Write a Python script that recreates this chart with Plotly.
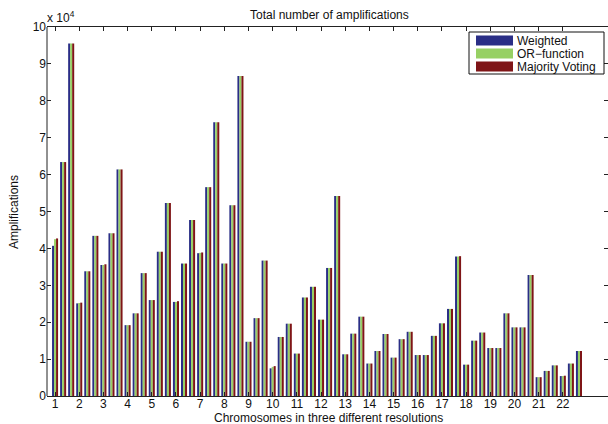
import plotly.graph_objects as go

# Amplification counts (in units of 10^4) for 22 chromosomes, each at three resolutions
chromosomes = [str(c) for c in range(1, 23)]
resolutions_per_chrom = 3

weighted = [
    4.07, 6.34, 9.55,  2.51, 3.38, 4.34,  3.55, 4.41, 6.14,  1.92, 2.24, 3.33,
    2.60, 3.91, 5.23,  2.55, 3.59, 4.77,  3.87, 5.66, 7.42,  3.59, 5.17, 8.67,
    1.47, 2.11, 3.67,  0.75, 1.60, 1.96,  1.15, 2.67, 2.96,  2.07, 3.47, 5.42,
    1.13, 1.69, 2.15,  0.88, 1.22, 1.68,  1.04, 1.54, 1.74,  1.11, 1.11, 1.63,
    1.97, 2.36, 3.78,  0.85, 1.50, 1.72,  1.30, 1.30, 2.24,  1.86, 1.86, 3.28,
    0.51, 0.68, 0.83,  0.54, 0.88, 1.22,
]
or_function = [
    4.25, 6.34, 9.55,  2.52, 3.38, 4.34,  3.55, 4.41, 6.14,  1.92, 2.24, 3.33,
    2.60, 3.91, 5.23,  2.55, 3.59, 4.77,  3.88, 5.66, 7.42,  3.59, 5.17, 8.67,
    1.47, 2.11, 3.67,  0.79, 1.60, 1.96,  1.15, 2.67, 2.96,  2.07, 3.47, 5.42,
    1.13, 1.69, 2.15,  0.88, 1.22, 1.68,  1.04, 1.54, 1.74,  1.11, 1.11, 1.63,
    1.97, 2.36, 3.78,  0.85, 1.50, 1.72,  1.30, 1.30, 2.24,  1.86, 1.86, 3.28,
    0.51, 0.68, 0.83,  0.54, 0.88, 1.22,
]
majority_voting = [
    4.27, 6.34, 9.55,  2.53, 3.38, 4.34,  3.57, 4.41, 6.14,  1.92, 2.24, 3.33,
    2.60, 3.91, 5.23,  2.57, 3.59, 4.77,  3.89, 5.66, 7.42,  3.59, 5.17, 8.67,
    1.47, 2.11, 3.67,  0.81, 1.60, 1.96,  1.15, 2.67, 2.96,  2.07, 3.47, 5.42,
    1.13, 1.69, 2.15,  0.88, 1.22, 1.68,  1.04, 1.54, 1.74,  1.11, 1.11, 1.63,
    1.97, 2.36, 3.79,  0.85, 1.50, 1.72,  1.30, 1.30, 2.24,  1.86, 1.86, 3.28,
    0.51, 0.68, 0.83,  0.55, 0.88, 1.22,
]

series_names = ["Weighted", "OR\u2212function", "Majority Voting"]
series_colors = ["#2a2e86", "#97d064", "#7f1517"]
y_ticks = list(range(0, 11))

FONT = "Liberation Sans, Arial, Helvetica, sans-serif"
TXT = "#111111"
AX = "#222222"
W, H = 608, 424
M_L, M_R, M_T, M_B = 47, 0, 27, 28

positions = list(range(1, len(weighted) + 1))
chrom_ticks = positions[::resolutions_per_chrom]

fig = go.Figure()
for name, vals, col in zip(series_names, [weighted, or_function, majority_voting], series_colors):
    fig.add_trace(go.Bar(
        x=positions, y=vals, name=name,
        marker=dict(color=col, line=dict(width=0)),
        showlegend=False,
    ))

# pixel -> paper coordinate helpers for the boxed legend and labels
plot_w = W - M_L - M_R
plot_h = H - M_T - M_B


def px(xp):
    return (xp - M_L) / plot_w


def py(yp):
    return (H - M_B - yp) / plot_h


shapes = [
    # left axis line (the right-hand border falls outside the canvas)
    dict(type="line", xref="paper", yref="paper", x0=0, x1=0, y0=0, y1=1,
         line=dict(color=AX, width=1), layer="above"),
    dict(type="rect", xref="paper", yref="paper",
         x0=px(469), x1=px(604), y0=py(74), y1=py(32),
         line=dict(color=TXT, width=1), fillcolor="white", layer="above"),
]
annotations = []
row_centers = [40.5, 53.5, 66.5]
for name, col, yc in zip(series_names, series_colors, row_centers):
    shapes.append(dict(type="rect", xref="paper", yref="paper",
                       x0=px(476), x1=px(513), y0=py(yc + 5), y1=py(yc - 5),
                       line=dict(width=0), fillcolor=col, layer="above"))
    annotations.append(dict(xref="paper", yref="paper", x=px(515), y=py(yc),
                            text=name, showarrow=False, xanchor="left", yanchor="middle",
                            font=dict(family=FONT, size=12, color=TXT)))

annotations += [
    dict(xref="paper", yref="paper", x=px(329), y=py(15), text="Total number of amplifications",
         showarrow=False, xanchor="center", yanchor="middle",
         font=dict(family=FONT, size=12, color=TXT)),
    dict(xref="paper", yref="paper", x=px(328), y=py(418), text="Chromosomes in three different resolutions",
         showarrow=False, xanchor="center", yanchor="middle",
         font=dict(family=FONT, size=12, color=TXT)),
    dict(xref="paper", yref="paper", x=px(14), y=py(212), text="Amplifications", textangle=-90,
         showarrow=False, xanchor="center", yanchor="middle",
         font=dict(family=FONT, size=12, color=TXT)),
    dict(xref="paper", yref="paper", x=px(45), y=py(17), text="x 10<sup>4</sup>",
         showarrow=False, xanchor="left", yanchor="middle",
         font=dict(family=FONT, size=12, color=TXT)),
]

fig.update_layout(
    width=W, height=H,
    margin=dict(l=M_L, r=M_R, t=M_T, b=M_B, pad=0),
    paper_bgcolor="white", plot_bgcolor="white",
    barmode="group", bargap=0.25, bargroupgap=0,
    font=dict(family=FONT, size=12, color=TXT),
    shapes=shapes, annotations=annotations,
    xaxis=dict(
        range=[0, (W - M_L - M_R) / 8.06],
        tickmode="array", tickvals=chrom_ticks, ticktext=chromosomes,
        ticks="inside", ticklen=4, tickcolor=AX, tickwidth=1,
        ticklabelstandoff=-3,
        showline=True, linecolor=AX, linewidth=1, mirror="ticks",
        showgrid=False, zeroline=False,
        tickfont=dict(family=FONT, size=12, color=TXT),
    ),
    yaxis=dict(
        range=[0, 10],
        tickmode="array", tickvals=y_ticks, ticktext=[str(v) for v in y_ticks],
        ticks="inside", ticklen=4, tickcolor=AX, tickwidth=1,
        showline=False, mirror="ticks",
        showgrid=False, zeroline=False,
        tickfont=dict(family=FONT, size=12, color=TXT),
    ),
)

fig.write_html("out.html")
